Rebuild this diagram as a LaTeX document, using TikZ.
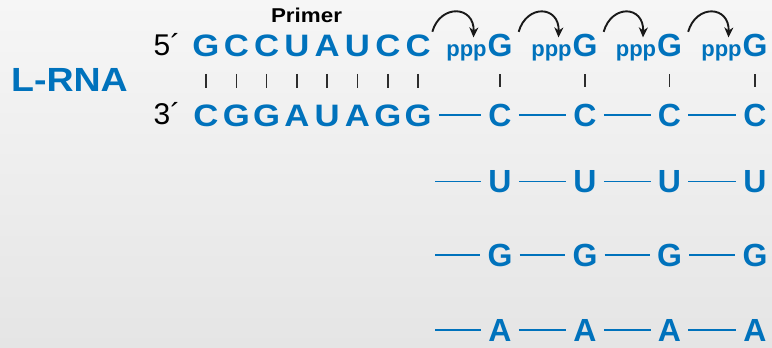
\documentclass[tikz,border=0pt]{standalone}
\usepackage{fontspec}
\setmainfont{Liberation Sans}
\newfontfamily\wideff[FakeStretch=1.12]{Liberation Sans}
\usetikzlibrary{arrows.meta,calc}
\definecolor{rnablue}{RGB}{0,114,188}
\definecolor{bgtop}{RGB}{246,246,246}
\definecolor{bgbot}{RGB}{229,229,229}
\definecolor{tickgray}{RGB}{45,45,45}
\begin{document}
\begin{tikzpicture}[x=1pt,y=-1pt,
  basic/.style={inner sep=0pt, text depth=0pt},
  lnt/.style={basic, text=rnablue, font=\wideff\bfseries\fontsize{31}{31}\selectfont, text height=22.2pt},
  rnt/.style={basic, text=rnablue, font=\bfseries\fontsize{32}{32}\selectfont, text height=22.9pt},
  ppp/.style={inner sep=0pt, text=rnablue, font=\bfseries\fontsize{22}{22}\selectfont},
  endlbl/.style={basic, text=black, font=\fontsize{30}{30}\selectfont, text height=21.5pt},
  title/.style={basic, text=rnablue, font=\wideff\bfseries\fontsize{33.5}{33.5}\selectfont},
  primerlbl/.style={basic, text=black, font=\wideff\bfseries\fontsize{20}{20}\selectfont},
  bond/.style={draw=rnablue, line width=1.7pt, shorten <=7pt, shorten >=7pt},
  pair/.style={draw=tickgray, line width=1.5pt, shorten <=17.5pt, shorten >=16pt},
  hop/.style={draw=black!90, line width=1.9pt, -{Stealth[length=10pt,width=9pt]}},
]
\shade[top color=bgtop, bottom color=bgbot] (0,0) rectangle (772,348);
\useasboundingbox (0,0) rectangle (772,348);

\node[title] (lrna) at (69.5,80) {L-RNA};
\node[primerlbl] (primer) at (306.5,15.5) {Primer};
\node[endlbl] (e5) at (167,45) {5´};
\node[endlbl] (e3) at (167,114) {3´};

\foreach \ch [count=\i] in {G,C,C,U,A,U,C,C}
  \node[lnt] (t\i) at ({206+30.3*(\i-1)},45) {\ch};
\foreach \ch [count=\i] in {C,G,G,A,U,A,G,G}
  \node[lnt] (b\i) at ({206+30.3*(\i-1)},115) {\ch};

\foreach \x [count=\i] in {500,585,669.5,755} {
  \node[rnt] (g\i) at (\x,45) {G};
  \node[ppp, anchor=base east] (pp\i) at ([xshift=-0.5pt]g\i.base west) {ppp};
  \node[rnt] (c\i) at (\x,115) {C};
  \node[rnt] (u\i) at (\x,181.5) {U};
  \node[rnt] (gg\i) at (\x,255) {G};
  \node[rnt] (a\i) at (\x,330) {A};
}

\coordinate (su) at (435,181.5);
\coordinate (sg) at (435,255);
\coordinate (sa) at (435,330);

% base pairs
\foreach \i in {1,...,8}
  \draw[pair] (t\i) -- (b\i);
\foreach \i in {1,...,4}
  \draw[pair] (g\i) -- (c\i);

% backbone bonds
\draw[bond] (b8) -- (c1);
\draw[bond, shorten <=0pt] (su) -- (u1);
\draw[bond, shorten <=0pt] (sg) -- (gg1);
\draw[bond, shorten <=0pt] (sa) -- (a1);
\foreach \i/\j in {1/2,2/3,3/4} {
  \draw[bond] (c\i) -- (c\j);
  \draw[bond] (u\i) -- (u\j);
  \draw[bond] (gg\i) -- (gg\j);
  \draw[bond] (a\i) -- (a\j);
}

% addition arrows
\draw[hop] ([shift={(1.5,-2)}]t8.north east) .. controls +(8,-28) and +(1,-32) .. ([shift={(7,-7)}]pp1.north);
\draw[hop] ([shift={(6,-1.5)}]g1.north east) .. controls +(8,-28) and +(1,-32) .. ([shift={(7,-7)}]pp2.north);
\draw[hop] ([shift={(6,-1.5)}]g2.north east) .. controls +(8,-28) and +(1,-32) .. ([shift={(7,-7)}]pp3.north);
\draw[hop] ([shift={(6,-1.5)}]g3.north east) .. controls +(8,-28) and +(1,-32) .. ([shift={(7,-7)}]pp4.north);
\end{tikzpicture}
\end{document}
